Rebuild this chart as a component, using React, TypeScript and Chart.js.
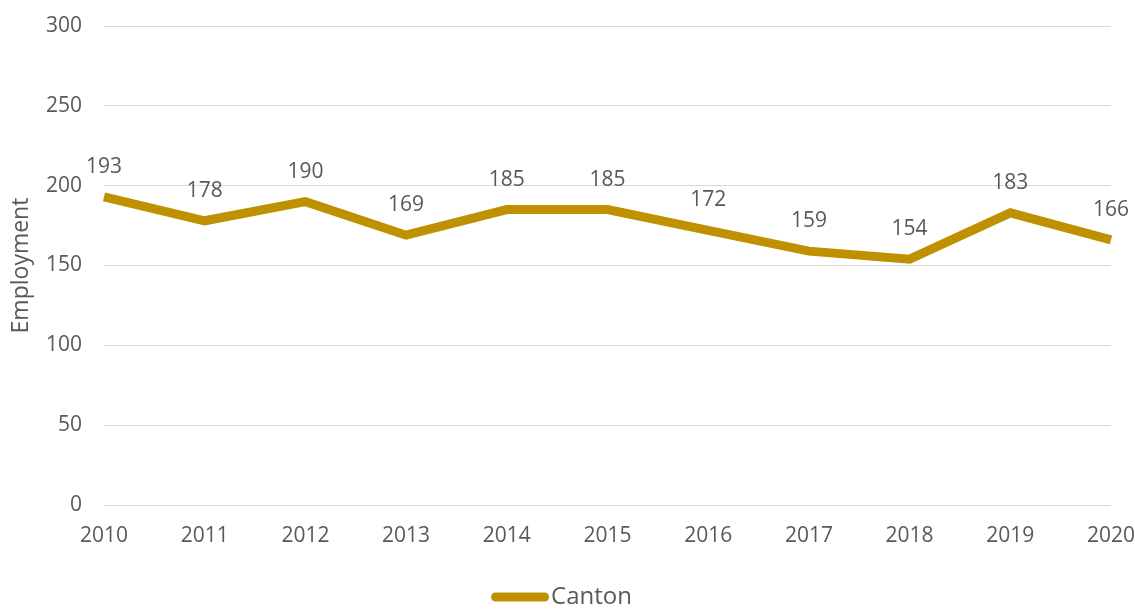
import React, { useEffect, useRef } from "react";
import { Chart, registerables } from "chart.js";

Chart.register(...registerables);

const years = ["2010", "2011", "2012", "2013", "2014", "2015", "2016", "2017", "2018", "2019", "2020"];
const cantonEmployment = [193, 178, 190, 169, 185, 185, 172, 159, 154, 183, 166];
const seriesName = "Canton";
const yTicks = [0, 50, 100, 150, 200, 250, 300];
const yTitle = "Employment";

const FONT = "'Open Sans', 'Liberation Sans', sans-serif";
const TEXT = "#595959";
const LINE = "#BF9000";

const labelsPlugin = {
  id: "pointLabels",
  afterDatasetsDraw(chart: any) {
    const ctx = chart.ctx;
    const meta = chart.getDatasetMeta(0);
    ctx.save();
    ctx.font = `21px ${FONT}`;
    ctx.fillStyle = TEXT;
    ctx.textAlign = "center";
    ctx.textBaseline = "middle";
    meta.data.forEach((pt: any, i: number) => {
      ctx.fillText(String(chart.data.datasets[0].data[i]), pt.x, pt.y - 30);
    });
    ctx.restore();
  },
};

const legendPlugin = {
  id: "customLegend",
  afterDraw(chart: any) {
    const ctx = chart.ctx;
    ctx.save();
    ctx.font = `24px ${FONT}`;
    const text = chart.data.datasets[0].label;
    const tw = ctx.measureText(text).width;
    const lineW = 58;
    const gap = 2;
    const total = lineW + gap + tw;
    const cx = chart.width / 2 - 6;
    const x0 = cx - total / 2;
    const y = 597;
    ctx.strokeStyle = LINE;
    ctx.lineWidth = 9;
    ctx.lineCap = "round";
    ctx.beginPath();
    ctx.moveTo(x0 + 4.5, y);
    ctx.lineTo(x0 + lineW - 4.5, y);
    ctx.stroke();
    ctx.fillStyle = TEXT;
    ctx.textAlign = "left";
    ctx.textBaseline = "middle";
    ctx.fillText(text, x0 + lineW + gap, y);
    ctx.restore();
  },
};

export default function App() {
  const ref = useRef<HTMLCanvasElement>(null);
  useEffect(() => {
    if (!ref.current) return;
    const chart = new Chart(ref.current, {
      type: "line",
      data: {
        labels: years,
        datasets: [
          {
            label: seriesName,
            data: cantonEmployment,
            borderColor: LINE,
            backgroundColor: LINE,
            borderWidth: 9,
            pointRadius: 0,
            tension: 0,
            borderJoinStyle: "miter",
            borderCapStyle: "butt",
          },
        ],
      },
      options: {
        animation: false,
        responsive: false,
        layout: { padding: { left: 0, right: 24, top: 26, bottom: 0 } },
        plugins: { legend: { display: false }, tooltip: { enabled: false } },
        scales: {
          x: {
            offset: false,
            grid: { display: false, drawTicks: false },
            border: { display: false },
            ticks: { color: TEXT, font: { family: FONT, size: 21 }, padding: 18, maxRotation: 0 },
            afterFit: (s: any) => {
              s.height = 104;
              s.paddingLeft = 0;
              s.paddingRight = 0;
            },
          },
          y: {
            min: 0,
            max: 300,
            afterBuildTicks: (s: any) => {
              s.ticks = yTicks.map((v) => ({ value: v }));
            },
            grid: { color: "#d9d9d9", lineWidth: 1, drawTicks: false },
            border: { display: false },
            ticks: { color: TEXT, font: { family: FONT, size: 21 }, padding: 22 },
            title: {
              display: true,
              text: yTitle,
              color: TEXT,
              font: { family: FONT, size: 23 },
              padding: { top: 8, bottom: 0 },
            },
            afterFit: (s: any) => {
              s.width = 104;
              s.paddingTop = 0;
              s.paddingBottom = 0;
            },
          },
        },
      },
      plugins: [labelsPlugin, legendPlugin],
    });
    return () => chart.destroy();
  }, []);
  return (
    <div style={{ position: "absolute", left: 0, top: 0, width: 1135, height: 609, background: "#fff" }}>
      <canvas ref={ref} width={1135} height={609} />
    </div>
  );
}
